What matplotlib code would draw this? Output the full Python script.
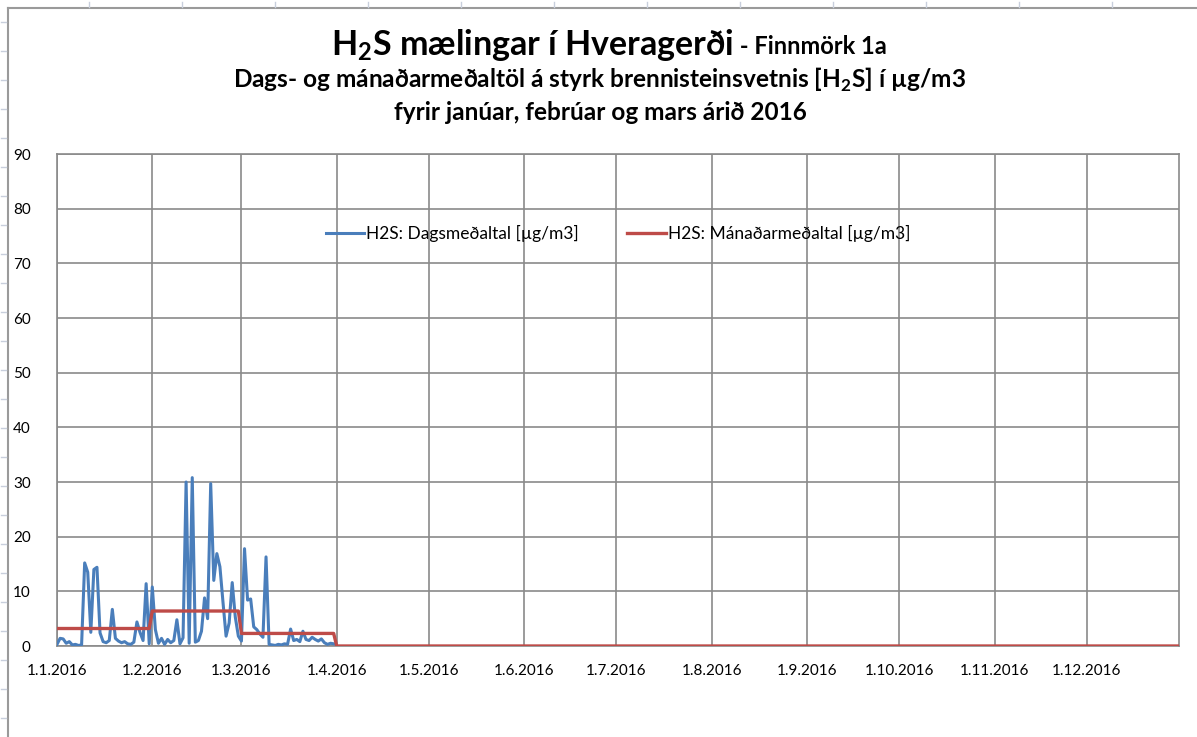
import numpy as np
import pandas as pd
import matplotlib
matplotlib.use("Agg")
import matplotlib.pyplot as plt
from matplotlib.lines import Line2D

plt.rcParams['font.family'] = ['Lato', 'DejaVu Sans']
plt.rcParams['mathtext.fontset'] = 'custom'
plt.rcParams['mathtext.rm'] = 'Lato'
plt.rcParams['mathtext.bf'] = 'Lato:bold'

# ---------------- data ----------------
daily_jan = [0.3, 1.4, 1.3, 0.5, 0.8, 0.2, 0.3, 0.1, 0.2, 15.2, 13.5, 2.5, 14.0, 14.4,
             2.4, 0.8, 0.6, 1.0, 6.7, 1.4, 0.9, 0.6, 0.8, 0.4, 0.3, 0.7, 4.4, 2.5, 1.0,
             11.4, 0.4]
daily_feb = [10.8, 3.0, 0.5, 1.4, 0.3, 1.2, 0.6, 1.0, 4.8, 0.4, 1.5, 30.0, 0.5, 30.8,
             0.7, 1.0, 2.7, 8.8, 5.0, 29.7, 12.0, 16.9, 14.5, 8.0, 1.8, 4.2, 11.6, 5.3,
             1.8]
daily_mar = [0.9, 17.8, 8.4, 8.6, 3.5, 3.0, 2.2, 1.6, 16.3, 0.3, 0.2, 0.1, 0.3, 0.2,
             0.4, 0.3, 3.1, 1.0, 1.2, 0.8, 2.7, 1.2, 1.0, 1.6, 1.2, 0.9, 1.3, 0.6, 0.3,
             0.5, 0.4]
monthly_mean = [3.2, 6.4, 2.3, 0, 0, 0, 0, 0, 0, 0, 0, 0]
month_labels = ['1.1.2016', '1.2.2016', '1.3.2016', '1.4.2016', '1.5.2016', '1.6.2016',
                '1.7.2016', '1.8.2016', '1.9.2016', '1.10.2016', '1.11.2016', '1.12.2016']
y_ticks = [0, 10, 20, 30, 40, 50, 60, 70, 80, 90]

label_daily = 'H2S: Dagsmeðaltal [µg/m3]'
label_month = 'H2S: Mánaðarmeðaltal [µg/m3]'

# ---------------- build series ----------------
daily_vals = daily_jan + daily_feb + daily_mar
daily_dates = pd.date_range('2016-01-01', periods=len(daily_vals), freq='D')
all_days = pd.date_range('2016-01-01', '2016-12-31', freq='D')
month_series = np.array([monthly_mean[d.month - 1] for d in all_days])
month_starts = pd.date_range('2016-01-01', periods=12, freq='MS')

W, H = 1197, 737
fig = plt.figure(figsize=(W / 100, H / 100), dpi=100)
fig.patch.set_facecolor('white')

ax = fig.add_axes([57 / W, 1 - 646 / H, (1179 - 57) / W, (646 - 154) / H])

grid_c = '#8a8a8a'
ax.plot(daily_dates, daily_vals, color='#4A7EBB', lw=2.2, solid_joinstyle='round', zorder=3)
ax.plot(all_days, month_series, color='#BE4B48', lw=2.4, zorder=4)

ax.set_xlim(all_days[0], all_days[-1])
ax.set_ylim(0, 90)
ax.set_yticks(y_ticks)
ax.set_yticklabels([str(v) for v in y_ticks])
ax.set_xticks(month_starts)
ax.set_xticklabels(month_labels)
ax.grid(True, color=grid_c, lw=1.2)
ax.set_axisbelow(True)
for s in ax.spines.values():
    s.set_color(grid_c)
    s.set_linewidth(1.2)
ax.tick_params(axis='both', length=0, labelsize=11, colors='black')
ax.tick_params(axis='y', pad=19)
ax.tick_params(axis='x', pad=13)

handles = [Line2D([], [], color='#4A7EBB', lw=2.2), Line2D([], [], color='#BE4B48', lw=2.4)]
ax.legend(handles, [label_daily, label_month], loc='center', bbox_to_anchor=(0.5, 0.839),
          ncol=2, frameon=False, fontsize=12.5, handlelength=2.2, handletextpad=0.12,
          columnspacing=2.8)

# ---------------- titles ----------------
t1 = fig.text(0, 1 - 45 / H, r'H$_\mathregular{2}$S mælingar í Hveragerði',
              fontsize=24.5, fontweight='bold', va='center', ha='left')
t1b = fig.text(0, 1 - 47 / H, ' - Finnmörk 1a', fontsize=17, fontweight='bold',
               va='center', ha='left')
fig.canvas.draw()
r = fig.canvas.get_renderer()
w1 = t1.get_window_extent(r).width
w2 = t1b.get_window_extent(r).width
x0 = (609 - (w1 + w2) / 2)
t1.set_x(x0 / W)
t1b.set_x((x0 + w1) / W)

fig.text(599 / W, 1 - 80 / H,
         r'Dags- og mánaðarmeðaltöl á styrk brennisteinsvetnis [H$_\mathregular{2}$S] í µg/m3',
         fontsize=17.6, fontweight='bold', ha='center', va='center')
fig.text(600 / W, 1 - 113 / H, 'fyrir janúar, febrúar og mars árið 2016',
         fontsize=17.6, fontweight='bold', ha='center', va='center')

# ---------------- chart frame / sheet decoration ----------------
frame_c = '#9a9a9a'
fig.add_artist(Line2D([8 / W, 1], [1 - 8 / H, 1 - 8 / H], color=frame_c, lw=1.5,
                      transform=fig.transFigure))
fig.add_artist(Line2D([8 / W, 8 / W], [0, 1 - 8 / H], color=frame_c, lw=1.5,
                      transform=fig.transFigure))
for xp in np.arange(89, W, 93):
    fig.add_artist(Line2D([xp / W, xp / W], [1 - 2 / H, 1 - 7 / H], color='#c8cfdc',
                          lw=1, transform=fig.transFigure))
for yp in np.arange(22, H, 29):
    fig.add_artist(Line2D([1 / W, 6 / W], [1 - yp / H, 1 - yp / H], color='#c8cfdc',
                          lw=1, transform=fig.transFigure))

fig.savefig('out.png', dpi=100)
